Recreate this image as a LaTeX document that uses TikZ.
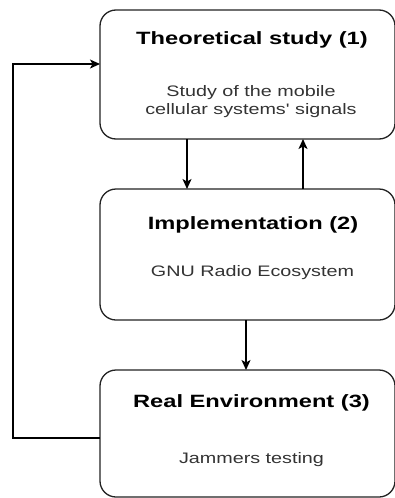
\documentclass[tikz,border=0pt]{standalone}
\usepackage{fontspec}
\setmainfont{Liberation Sans}
\newfontfamily\headfont[FakeStretch=1.33]{Liberation Sans}
\newfontfamily\bodyfont[FakeStretch=1.3]{Liberation Sans}
\usetikzlibrary{arrows.meta}
\definecolor{edge}{HTML}{222222}
\definecolor{bodytext}{HTML}{333333}
\tikzset{
  stage/.style={draw=edge, line width=1.3pt, rounded corners=16pt,
    minimum width=295pt, inner sep=0pt, outer sep=0pt},
  heading/.style={anchor=base, inner sep=0pt,
    font=\headfont\bfseries\fontsize{17.8}{20}\selectfont, text=black},
  detail/.style={anchor=base, inner sep=0pt,
    font=\bodyfont\fontsize{15.2}{18}\selectfont, text=bodytext},
  flow/.style={draw=black, line width=1.3pt,
    -{Stealth[length=10pt,width=9pt,inset=2.5pt]}},
}
\begin{document}
\begin{tikzpicture}[x=1pt,y=-1pt]
\useasboundingbox (0,0) rectangle (394,498);

% the three stages
\node[stage, minimum height=129pt] (theory) at (247.5,74.5) {};
\node[stage, minimum height=131pt] (impl) at (247.5,254.5) {};
\node[stage, minimum height=127pt] (real) at (247.5,433.5) {};

% stage texts
\node[heading] (t1) at (252,44) {Theoretical study (1)};
\node[detail] (d1a) at (251,96) {Study of the mobile};
\node[detail] (d1b) at (251,114) {cellular systems' signals};

\node[heading] (t2) at (253,229) {Implementation (2)};
\node[detail] (d2) at (252.5,276) {GNU Radio Ecosystem};

\node[heading] (t3) at (251.5,407) {Real Environment (3)};
\node[detail] (d3) at (251.5,463) {Jammers testing};

% connector columns and rows
\coordinate (down1) at (187,0);
\coordinate (up1) at (303,0);
\coordinate (down2) at (246,0);
\coordinate (loopx) at (13,0);
\coordinate (loopin) at (0,64);
\coordinate (loopout) at (0,438);

\draw[flow] (theory.south -| down1) -- (impl.north -| down1);
\draw[flow] (impl.north -| up1) -- (theory.south -| up1);
\draw[flow] (impl.south -| down2) -- (real.north -| down2);
\draw[flow] (real.west |- loopout) -- (loopx |- loopout)
  -- (loopx |- loopin) -- (theory.west |- loopin);
\end{tikzpicture}
\end{document}
